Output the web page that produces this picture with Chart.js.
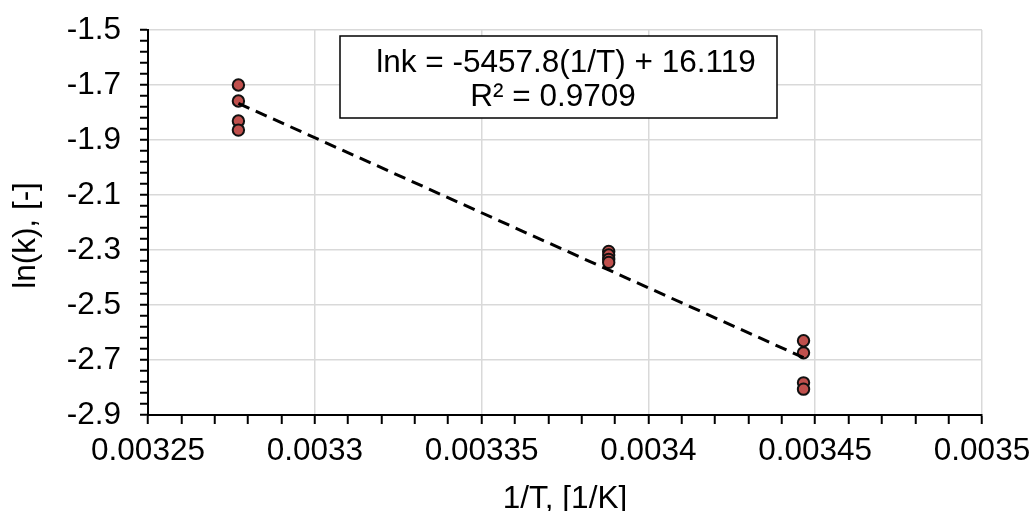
<!DOCTYPE html>
<html>
<head>
<meta charset="utf-8">
<script src="https://cdn.jsdelivr.net/npm/chart.js@4/dist/chart.umd.min.js"></script>
<style>
  html, body { margin: 0; padding: 0; background: #ffffff; }
  canvas { display: block; }
</style>
</head>
<body>
<canvas id="arrhenius" width="1031" height="511"></canvas>
<script>
// Reciprocal temperature of each run, 1/T in 1/K
const invT = [
  0.0032771, 0.0032771, 0.0032771, 0.0032771,
  0.0033881, 0.0033881, 0.0033881, 0.0033881,
  0.0034465, 0.0034465, 0.0034465, 0.0034465
];
// Natural log of the measured rate constant for each run
const lnK = [
  -1.700, -1.758, -1.831, -1.864,
  -2.305, -2.318, -2.334, -2.345,
  -2.630, -2.674, -2.783, -2.806
];
// Linear fit of ln(k) against 1/T
const fitSlope = -5457.8;
const fitIntercept = 16.119;
const fitR2 = 0.9709;

// Axis ranges and tick spacing
const xRange = [0.00325, 0.0035];
const xMinorStep = 0.00001;
const yRange = [-2.9, -1.5];
const yMinorStep = 0.04;
const minorPerMajor = 5;

const xTitle = '1/T, [1/K]';
const yTitle = 'ln(k), [-]';

const FONT = '"Liberation Sans", Arial, sans-serif';
const TEXT_SIZE = 31.5;

const points = invT.map((x, i) => ({ x: x, y: lnK[i] }));
const xFitMin = Math.min(...invT);
const xFitMax = Math.max(...invT);
const fitLine = [xFitMin, xFitMax].map(x => ({ x: x, y: fitSlope * x + fitIntercept }));

const isMajor = (ctx) => ctx.index % minorPerMajor === 0;
const gridColor = (ctx) => isMajor(ctx) ? '#d9d9d9' : 'rgba(0,0,0,0)';

// Equation box drawn over the plot area, plus the rotated y-axis title
const annotations = {
  id: 'annotations',
  afterDatasetsDraw(chart) {
    const { ctx, chartArea } = chart;
    const bx = chartArea.left + 192, by = chartArea.top + 6, bw = 437, bh = 82;
    ctx.save();
    ctx.fillStyle = '#ffffff';
    ctx.fillRect(bx, by, bw, bh);
    ctx.lineWidth = 1.5;
    ctx.strokeStyle = '#000000';
    ctx.strokeRect(bx, by, bw, bh);
    ctx.fillStyle = '#000000';
    ctx.font = TEXT_SIZE + 'px ' + FONT;
    ctx.textAlign = 'center';
    ctx.textBaseline = 'alphabetic';
    const eq = 'lnk = ' + fitSlope.toFixed(1) + '(1/T) + ' + fitIntercept.toFixed(3);
    const r2 = 'R\u00B2 = ' + fitR2.toFixed(4);
    ctx.fillText(eq, bx + 226, by + 36);
    ctx.fillText(r2, bx + 213, by + 70);
    ctx.restore();
  },
  afterDraw(chart) {
    const { ctx, chartArea } = chart;
    ctx.save();
    ctx.translate(26, (chartArea.top + chartArea.bottom) / 2 + 13);
    ctx.rotate(-Math.PI / 2);
    ctx.fillStyle = '#000000';
    ctx.font = TEXT_SIZE + 'px ' + FONT;
    ctx.textAlign = 'center';
    ctx.textBaseline = 'middle';
    ctx.fillText(yTitle, 0, 0);
    ctx.restore();
  }
};

new Chart(document.getElementById('arrhenius'), {
  type: 'scatter',
  data: {
    datasets: [
      {
        type: 'line',
        data: fitLine,
        showLine: true,
        borderColor: '#000000',
        borderWidth: 3,
        borderDash: [12, 7],
        pointRadius: 0,
        fill: false
      },
      {
        data: points,
        backgroundColor: '#C0504D',
        borderColor: '#111111',
        borderWidth: 2,
        pointRadius: 5.7
      }
    ]
  },
  options: {
    responsive: false,
    animation: false,
    devicePixelRatio: 1,
    layout: { padding: { left: 0, top: 30, right: 49, bottom: 0 } },
    plugins: { legend: { display: false }, tooltip: { enabled: false } },
    scales: {
      x: {
        type: 'linear',
        min: xRange[0],
        max: xRange[1],
        afterFit(scale) {
          scale.height = 96;
          scale.paddingLeft = 0;
          scale.paddingRight = 0;
        },
        ticks: {
          stepSize: xMinorStep,
          maxTicksLimit: 100,
          autoSkip: false,
          maxRotation: 0,
          padding: 8,
          color: '#000000',
          font: { family: FONT, size: TEXT_SIZE, lineHeight: 1.2 },
          callback: (v, i) => i % minorPerMajor === 0 ? String(parseFloat(v.toFixed(6))) : ''
        },
        grid: {
          color: gridColor,
          lineWidth: 1.5,
          tickColor: '#000000',
          tickWidth: 2,
          tickLength: 9
        },
        border: { color: '#000000', width: 2 },
        title: {
          display: true,
          text: xTitle,
          color: '#000000',
          font: { family: FONT, size: TEXT_SIZE, lineHeight: 1.2 },
          padding: { top: 0, bottom: -7 }
        }
      },
      y: {
        type: 'linear',
        min: yRange[0],
        max: yRange[1],
        afterFit(scale) {
          scale.width = 148;
          scale.paddingTop = 0;
          scale.paddingBottom = 0;
        },
        ticks: {
          stepSize: yMinorStep,
          maxTicksLimit: 100,
          autoSkip: false,
          padding: 19,
          color: '#000000',
          font: { family: FONT, size: TEXT_SIZE, lineHeight: 1.2 },
          callback: (v, i) => i % minorPerMajor === 0 ? v.toFixed(1) : ''
        },
        grid: {
          color: gridColor,
          lineWidth: 1.5,
          tickColor: '#000000',
          tickWidth: 2,
          tickLength: 8
        },
        border: { color: '#000000', width: 2 },
        title: { display: false }
      }
    }
  },
  plugins: [annotations]
});
</script>
</body>
</html>
